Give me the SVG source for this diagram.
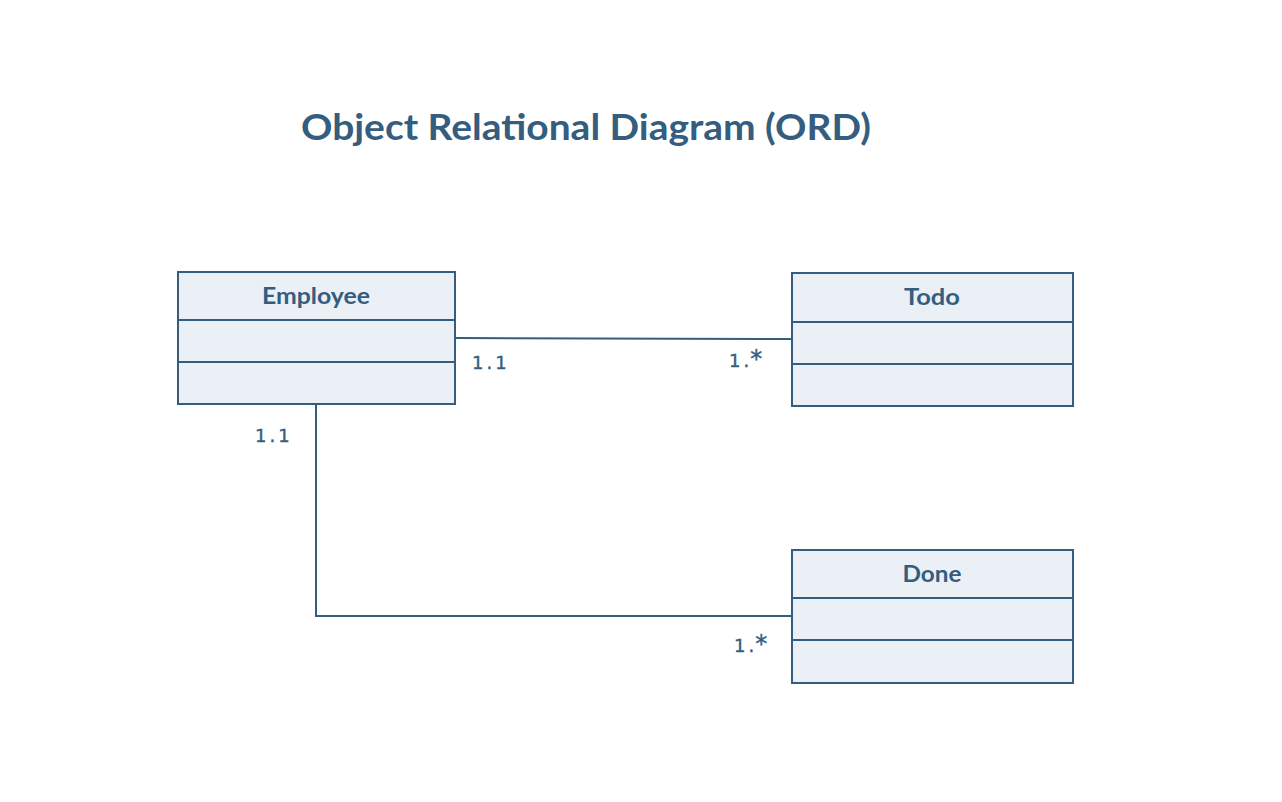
<svg xmlns="http://www.w3.org/2000/svg" width="1282" height="802" viewBox="0 0 1282 802">
<style>
.box{fill:#ebf0f7;stroke:#345d80;stroke-width:2}
.div{stroke:#345d80;stroke-width:2}
.name{font-family:Lato,"Open Sans",sans-serif;font-weight:bold;font-size:23px;fill:#345d80;text-anchor:middle}
.mult{font-family:"DejaVu Sans",sans-serif;font-size:18px;letter-spacing:3px;fill:#345d80;stroke:#345d80;stroke-width:0.4}
.star{font-size:24px}
.conn{fill:none;stroke:#345d80;stroke-width:2}
.title{font-family:Lato,"Open Sans",sans-serif;font-weight:bold;font-size:36px;fill:#345d80}
</style>
<rect width="1282" height="802" fill="#ffffff"/>
<text class="title" x="301" y="140" textLength="570" lengthAdjust="spacingAndGlyphs">Object Relational Diagram (ORD)</text>
<g id="connectors">
<path class="conn" d="M455 338 L792 339"/>
<path class="conn" d="M316 404 L316 616 L792 616"/>
<text class="mult" x="472" y="369">1.1</text>
<text class="mult" x="729" y="367">1.<tspan class="star" dx="-2">*</tspan></text>
<text class="mult" x="255" y="442">1.1</text>
<text class="mult" x="734" y="652">1.<tspan class="star" dx="-2">*</tspan></text>
</g>
<g id="employee">
<rect class="box" x="178" y="272" width="277" height="132"/>
<line class="div" x1="178" y1="320" x2="455" y2="320"/>
<line class="div" x1="178" y1="362" x2="455" y2="362"/>
<text class="name" x="316" y="304" textLength="108" lengthAdjust="spacingAndGlyphs">Employee</text>
</g>
<g id="todo">
<rect class="box" x="792" y="273" width="281" height="133"/>
<line class="div" x1="792" y1="322" x2="1073" y2="322"/>
<line class="div" x1="792" y1="364" x2="1073" y2="364"/>
<text class="name" x="932" y="305" textLength="56" lengthAdjust="spacingAndGlyphs">Todo</text>
</g>
<g id="done">
<rect class="box" x="792" y="550" width="281" height="133"/>
<line class="div" x1="792" y1="598" x2="1073" y2="598"/>
<line class="div" x1="792" y1="640" x2="1073" y2="640"/>
<text class="name" x="932" y="582" textLength="59" lengthAdjust="spacingAndGlyphs">Done</text>
</g>
</svg>
